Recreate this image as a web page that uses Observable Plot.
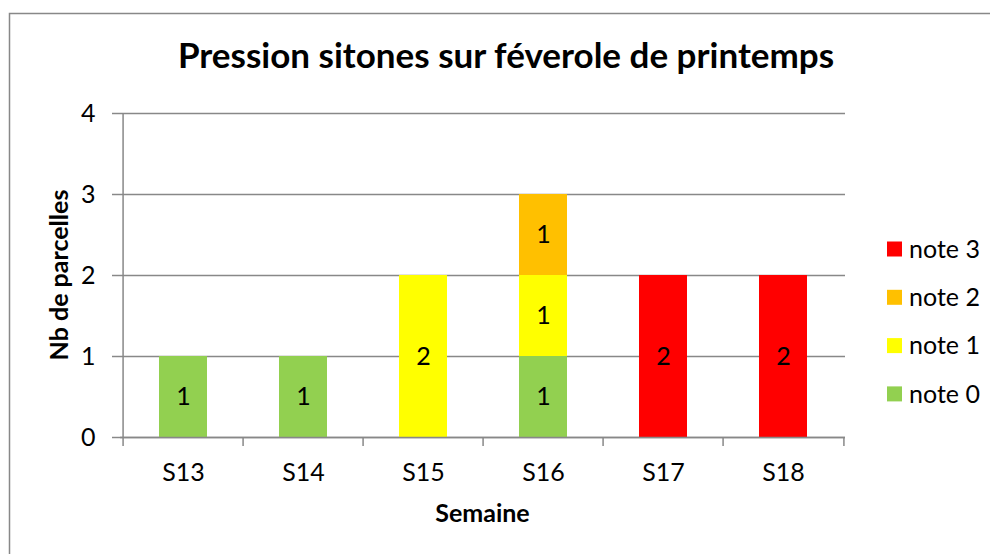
<!DOCTYPE html>
<html><head><meta charset="utf-8">
<script src="https://cdn.jsdelivr.net/npm/d3@7"></script>
<script src="https://cdn.jsdelivr.net/npm/@observablehq/plot@0.6"></script>
<style>body{margin:0;background:#fff} svg{display:block}</style>
</head><body><div id="chart"></div>
<script>
const weeks = ["S13","S14","S15","S16","S17","S18"];
const notes = ["note 0","note 1","note 2","note 3"];
const colors = ["#92D050","#FFFF00","#FFC000","#FF0000"];
const note0 = [1,1,0,1,0,0];
const note1 = [0,0,2,1,0,0];
const note2 = [0,0,0,1,0,0];
const note3 = [0,0,0,0,2,2];
const yTicks = [0,1,2,3,4];
const title = "Pression sitones sur féverole de printemps";
const yLabel = "Nb de parcelles";
const xLabel = "Semaine";

const series = [note0, note1, note2, note3];
const data = [];
notes.forEach((n, i) => weeks.forEach((w, j) => {
  if (series[i][j] > 0) data.push({week: w, note: n, value: series[i][j]});
}));

const W = 990, H = 554, ml = 120, mr = 145, mt = 113, mb = 117;
const step = (W - ml - mr) / weeks.length;
const gray = "#888";
const font = "Lato, Carlito, 'Open Sans', sans-serif";

const plot = Plot.plot({
  width: W, height: H,
  marginLeft: ml, marginRight: mr, marginTop: mt, marginBottom: mb,
  style: {fontFamily: font, fontSize: "25px", color: "#000", background: "#fff", overflow: "visible"},
  x: {domain: weeks, paddingInner: 0.6, paddingOuter: 0.3, align: 0.5, label: null},
  y: {domain: [0, 4], ticks: yTicks, label: null},
  color: {domain: notes, range: colors},
  marks: [
    Plot.gridY(yTicks, {stroke: gray, strokeOpacity: 1, strokeWidth: 1.5}),
    Plot.barY(data, {x: "week", y: "value", fill: "note"}),
    Plot.text(data, Plot.stackY({x: "week", y: "value", text: "value", fill: "#000", fontSize: 25})),
    Plot.ruleY([0], {stroke: gray, strokeWidth: 1.5}),
    Plot.ruleY(yTicks, {stroke: gray, strokeWidth: 1.5, insetLeft: -8, insetRight: W - ml - mr}),
    Plot.ruleX([weeks[0]], {x: d => d, dx: -step / 2, stroke: gray, strokeWidth: 1.5, insetBottom: -9}),
    Plot.ruleX(weeks.slice(1), {x: d => d, dx: -step / 2, stroke: gray, strokeWidth: 1.5, insetTop: H - mt - mb, insetBottom: -9}),
    Plot.ruleX([weeks[weeks.length - 1]], {x: d => d, dx: step / 2, stroke: gray, strokeWidth: 1.5, insetTop: H - mt - mb, insetBottom: -9}),
    Plot.axisY(yTicks, {tickSize: 0, tickPadding: 25, fontSize: 25, fill: "#000", label: null, tickFormat: d3.format("d")}),
    Plot.axisX({tickSize: 0, tickPadding: 26, fontSize: 25, fill: "#000", label: null})
  ]
});

const svg = d3.select(plot);
svg.append("rect")
  .attr("x", 9.5).attr("y", 13.5).attr("width", 1000).attr("height", 600)
  .attr("fill", "none").attr("stroke", gray).attr("stroke-width", 1.5);
svg.append("text")
  .attr("x", 506).attr("y", 68).attr("text-anchor", "middle")
  .attr("font-family", font).attr("font-weight", "bold").attr("font-size", 35)
  .attr("fill", "#000").text(title);
svg.append("text")
  .attr("transform", "translate(59,275) rotate(-90)").attr("dy", "0.35em")
  .attr("text-anchor", "middle")
  .attr("font-family", font).attr("font-weight", "bold").attr("font-size", 25)
  .attr("fill", "#000").text(yLabel);
svg.append("text")
  .attr("x", (ml + W - mr) / 2).attr("y", 522).attr("text-anchor", "middle")
  .attr("font-family", font).attr("font-weight", "bold").attr("font-size", 25)
  .attr("fill", "#000").text(xLabel);

const legendOrder = notes.slice().reverse();
const leg = svg.append("g").attr("transform", "translate(887,249)");
legendOrder.forEach((n, i) => {
  const g = leg.append("g").attr("transform", `translate(0,${i * 48.3})`);
  g.append("rect").attr("x", 0).attr("y", -7.5).attr("width", 15).attr("height", 15)
    .attr("fill", colors[notes.indexOf(n)]);
  g.append("text").attr("x", 22).attr("dy", "0.35em").attr("text-anchor", "start")
    .attr("font-family", font).attr("font-size", 25).attr("fill", "#000").text(n);
});

document.getElementById("chart").appendChild(plot);
</script>
</body></html>
